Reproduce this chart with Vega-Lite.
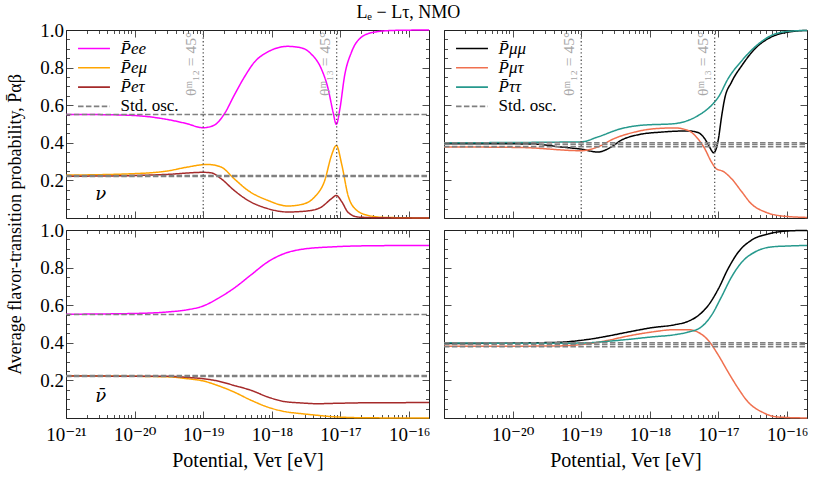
{
  "$schema": "https://vega.github.io/schema/vega-lite/v6.json",
  "padding": {"left": 6, "top": 4, "right": 5, "bottom": 5},
  "title": {"text": "Lₑ − Lτ, NMO", "anchor": "middle", "font": "Liberation Serif, DejaVu Serif", "fontSize": 18, "fontWeight": "normal", "color": "#000", "offset": -1},
  "datasets": {
    "curves": [
      {"panel":"TL","series":"P̄ee","x":1e-21,"y":0.551},{"panel":"TL","series":"P̄ee","x":3e-21,"y":0.550},{"panel":"TL","series":"P̄ee","x":1e-20,"y":0.545},{"panel":"TL","series":"P̄ee","x":3e-20,"y":0.524},{"panel":"TL","series":"P̄ee","x":5.6e-20,"y":0.503},{"panel":"TL","series":"P̄ee","x":1e-19,"y":0.48},{"panel":"TL","series":"P̄ee","x":1.45e-19,"y":0.494},{"panel":"TL","series":"P̄ee","x":2.04e-19,"y":0.555},{"panel":"TL","series":"P̄ee","x":2.82e-19,"y":0.652},{"panel":"TL","series":"P̄ee","x":3.98e-19,"y":0.75},{"panel":"TL","series":"P̄ee","x":5.6e-19,"y":0.83},{"panel":"TL","series":"P̄ee","x":8.7e-19,"y":0.883},{"panel":"TL","series":"P̄ee","x":1.7e-18,"y":0.913},{"panel":"TL","series":"P̄ee","x":2.7e-18,"y":0.905},{"panel":"TL","series":"P̄ee","x":3.7e-18,"y":0.874},{"panel":"TL","series":"P̄ee","x":5.25e-18,"y":0.794},{"panel":"TL","series":"P̄ee","x":6.6e-18,"y":0.688},{"panel":"TL","series":"P̄ee","x":7.8e-18,"y":0.563},{"panel":"TL","series":"P̄ee","x":8.7e-18,"y":0.498},{"panel":"TL","series":"P̄ee","x":9.8e-18,"y":0.58},{"panel":"TL","series":"P̄ee","x":1.15e-17,"y":0.758},{"panel":"TL","series":"P̄ee","x":1.45e-17,"y":0.883},{"panel":"TL","series":"P̄ee","x":2.04e-17,"y":0.963},{"panel":"TL","series":"P̄ee","x":3.16e-17,"y":0.989},{"panel":"TL","series":"P̄ee","x":6.2e-17,"y":0.998},{"panel":"TL","series":"P̄ee","x":1.95e-16,"y":1.0},
      {"panel":"TL","series":"P̄eμ","x":1e-21,"y":0.228},{"panel":"TL","series":"P̄eμ","x":1e-20,"y":0.236},{"panel":"TL","series":"P̄eμ","x":3e-20,"y":0.25},{"panel":"TL","series":"P̄eμ","x":5.9e-20,"y":0.271},{"panel":"TL","series":"P̄eμ","x":1.15e-19,"y":0.285},{"panel":"TL","series":"P̄eμ","x":1.82e-19,"y":0.271},{"panel":"TL","series":"P̄eμ","x":2.82e-19,"y":0.209},{"panel":"TL","series":"P̄eμ","x":4.47e-19,"y":0.147},{"panel":"TL","series":"P̄eμ","x":8.7e-19,"y":0.094},{"panel":"TL","series":"P̄eμ","x":1.7e-18,"y":0.064},{"panel":"TL","series":"P̄eμ","x":2.7e-18,"y":0.072},{"panel":"TL","series":"P̄eμ","x":4.2e-18,"y":0.112},{"panel":"TL","series":"P̄eμ","x":5.9e-18,"y":0.2},{"panel":"TL","series":"P̄eμ","x":7.4e-18,"y":0.333},{"panel":"TL","series":"P̄eμ","x":8.7e-18,"y":0.386},{"panel":"TL","series":"P̄eμ","x":1.05e-17,"y":0.28},{"panel":"TL","series":"P̄eμ","x":1.29e-17,"y":0.12},{"panel":"TL","series":"P̄eμ","x":1.62e-17,"y":0.05},{"panel":"TL","series":"P̄eμ","x":2.5e-17,"y":0.014},{"panel":"TL","series":"P̄eμ","x":4.5e-17,"y":0.003},{"panel":"TL","series":"P̄eμ","x":1.95e-16,"y":0.0},
      {"panel":"TL","series":"P̄eτ","x":1e-21,"y":0.222},{"panel":"TL","series":"P̄eτ","x":1e-20,"y":0.226},{"panel":"TL","series":"P̄eτ","x":3e-20,"y":0.232},{"panel":"TL","series":"P̄eτ","x":1e-19,"y":0.243},{"panel":"TL","series":"P̄eτ","x":1.32e-19,"y":0.24},{"panel":"TL","series":"P̄eτ","x":1.82e-19,"y":0.209},{"panel":"TL","series":"P̄eτ","x":2.82e-19,"y":0.147},{"panel":"TL","series":"P̄eτ","x":4.47e-19,"y":0.094},{"panel":"TL","series":"P̄eτ","x":8.7e-19,"y":0.05},{"panel":"TL","series":"P̄eτ","x":1.7e-18,"y":0.032},{"panel":"TL","series":"P̄eτ","x":3.4e-18,"y":0.038},{"panel":"TL","series":"P̄eτ","x":5.25e-18,"y":0.058},{"panel":"TL","series":"P̄eτ","x":7.4e-18,"y":0.103},{"panel":"TL","series":"P̄eτ","x":8.7e-18,"y":0.12},{"panel":"TL","series":"P̄eτ","x":1.05e-17,"y":0.085},{"panel":"TL","series":"P̄eτ","x":1.29e-17,"y":0.03},{"panel":"TL","series":"P̄eτ","x":1.82e-17,"y":0.005},{"panel":"TL","series":"P̄eτ","x":4e-17,"y":0.001},{"panel":"TL","series":"P̄eτ","x":1.95e-16,"y":0.0},
      {"panel":"TR","series":"P̄μμ","x":1e-21,"y":0.395},{"panel":"TR","series":"P̄μμ","x":1.86e-20,"y":0.394},{"panel":"TR","series":"P̄μμ","x":5e-20,"y":0.378},{"panel":"TR","series":"P̄μμ","x":1e-19,"y":0.366},{"panel":"TR","series":"P̄μμ","x":1.74e-19,"y":0.351},{"panel":"TR","series":"P̄μμ","x":2.75e-19,"y":0.378},{"panel":"TR","series":"P̄μμ","x":3.8e-19,"y":0.413},{"panel":"TR","series":"P̄μμ","x":6.8e-19,"y":0.443},{"panel":"TR","series":"P̄μμ","x":1.48e-18,"y":0.457},{"panel":"TR","series":"P̄μμ","x":3.6e-18,"y":0.463},{"panel":"TR","series":"P̄μμ","x":5e-18,"y":0.455},{"panel":"TR","series":"P̄μμ","x":6.3e-18,"y":0.422},{"panel":"TR","series":"P̄μμ","x":7.4e-18,"y":0.378},{"panel":"TR","series":"P̄μμ","x":8.5e-18,"y":0.347},{"panel":"TR","series":"P̄μμ","x":1e-17,"y":0.422},{"panel":"TR","series":"P̄μμ","x":1.1e-17,"y":0.53},{"panel":"TR","series":"P̄μμ","x":1.23e-17,"y":0.634},{"panel":"TR","series":"P̄μμ","x":1.55e-17,"y":0.723},{"panel":"TR","series":"P̄μμ","x":2.2e-17,"y":0.812},{"panel":"TR","series":"P̄μμ","x":3.4e-17,"y":0.9},{"panel":"TR","series":"P̄μμ","x":5.9e-17,"y":0.963},{"panel":"TR","series":"P̄μμ","x":1.05e-16,"y":0.989},{"panel":"TR","series":"P̄μμ","x":1.95e-16,"y":0.998},
      {"panel":"TR","series":"P̄μτ","x":1e-21,"y":0.378},{"panel":"TR","series":"P̄μτ","x":1.32e-20,"y":0.375},{"panel":"TR","series":"P̄μτ","x":1e-19,"y":0.358},{"panel":"TR","series":"P̄μτ","x":1.74e-19,"y":0.378},{"panel":"TR","series":"P̄μτ","x":3e-19,"y":0.422},{"panel":"TR","series":"P̄μτ","x":6e-19,"y":0.457},{"panel":"TR","series":"P̄μτ","x":1.17e-18,"y":0.475},{"panel":"TR","series":"P̄μτ","x":2.3e-18,"y":0.479},{"panel":"TR","series":"P̄μτ","x":3.6e-18,"y":0.466},{"panel":"TR","series":"P̄μτ","x":5e-18,"y":0.422},{"panel":"TR","series":"P̄μτ","x":6.3e-18,"y":0.369},{"panel":"TR","series":"P̄μτ","x":7.9e-18,"y":0.298},{"panel":"TR","series":"P̄μτ","x":9.3e-18,"y":0.262},{"panel":"TR","series":"P̄μτ","x":1.17e-17,"y":0.248},{"panel":"TR","series":"P̄μτ","x":1.55e-17,"y":0.209},{"panel":"TR","series":"P̄μτ","x":2.2e-17,"y":0.138},{"panel":"TR","series":"P̄μτ","x":3e-17,"y":0.076},{"panel":"TR","series":"P̄μτ","x":4.8e-17,"y":0.032},{"panel":"TR","series":"P̄μτ","x":8.3e-17,"y":0.011},{"panel":"TR","series":"P̄μτ","x":1.95e-16,"y":0.003},
      {"panel":"TR","series":"P̄ττ","x":1e-21,"y":0.4},{"panel":"TR","series":"P̄ττ","x":1e-19,"y":0.405},{"panel":"TR","series":"P̄ττ","x":1.74e-19,"y":0.431},{"panel":"TR","series":"P̄ττ","x":3.8e-19,"y":0.475},{"panel":"TR","series":"P̄ττ","x":7.4e-19,"y":0.493},{"panel":"TR","series":"P̄ττ","x":2.3e-18,"y":0.502},{"panel":"TR","series":"P̄ττ","x":3.6e-18,"y":0.519},{"panel":"TR","series":"P̄ττ","x":5.6e-18,"y":0.555},{"panel":"TR","series":"P̄ττ","x":7.9e-18,"y":0.599},{"panel":"TR","series":"P̄ττ","x":1e-17,"y":0.644},{"panel":"TR","series":"P̄ττ","x":1.38e-17,"y":0.741},{"panel":"TR","series":"P̄ττ","x":2.2e-17,"y":0.838},{"panel":"TR","series":"P̄ττ","x":3.4e-17,"y":0.91},{"panel":"TR","series":"P̄ττ","x":5.9e-17,"y":0.971},{"panel":"TR","series":"P̄ττ","x":1.05e-16,"y":0.993},{"panel":"TR","series":"P̄ττ","x":1.95e-16,"y":0.998},
      {"panel":"BL","series":"P̄ee","x":1e-21,"y":0.552},{"panel":"BL","series":"P̄ee","x":1e-20,"y":0.556},{"panel":"BL","series":"P̄ee","x":3e-20,"y":0.564},{"panel":"BL","series":"P̄ee","x":5.9e-20,"y":0.576},{"panel":"BL","series":"P̄ee","x":1e-19,"y":0.596},{"panel":"BL","series":"P̄ee","x":1.62e-19,"y":0.635},{"panel":"BL","series":"P̄ee","x":2.82e-19,"y":0.691},{"panel":"BL","series":"P̄ee","x":5e-19,"y":0.762},{"panel":"BL","series":"P̄ee","x":8.7e-19,"y":0.83},{"panel":"BL","series":"P̄ee","x":1.5e-18,"y":0.874},{"panel":"BL","series":"P̄ee","x":2.7e-18,"y":0.897},{"panel":"BL","series":"P̄ee","x":8.3e-18,"y":0.911},{"panel":"BL","series":"P̄ee","x":2.5e-17,"y":0.916},{"panel":"BL","series":"P̄ee","x":1.95e-16,"y":0.918},
      {"panel":"BL","series":"P̄eμ","x":1e-21,"y":0.225},{"panel":"BL","series":"P̄eμ","x":3e-20,"y":0.219},{"panel":"BL","series":"P̄eμ","x":5.9e-20,"y":0.209},{"panel":"BL","series":"P̄eμ","x":1e-19,"y":0.197},{"panel":"BL","series":"P̄eμ","x":1.62e-19,"y":0.173},{"panel":"BL","series":"P̄eμ","x":2.82e-19,"y":0.138},{"panel":"BL","series":"P̄eμ","x":5e-19,"y":0.094},{"panel":"BL","series":"P̄eμ","x":8.7e-19,"y":0.058},{"panel":"BL","series":"P̄eμ","x":1.5e-18,"y":0.035},{"panel":"BL","series":"P̄eμ","x":2.7e-18,"y":0.023},{"panel":"BL","series":"P̄eμ","x":4.7e-18,"y":0.014},{"panel":"BL","series":"P̄eμ","x":8.3e-18,"y":0.006},{"panel":"BL","series":"P̄eμ","x":2.5e-17,"y":0.001},{"panel":"BL","series":"P̄eμ","x":1.95e-16,"y":0.0},
      {"panel":"BL","series":"P̄eτ","x":1e-21,"y":0.223},{"panel":"BL","series":"P̄eτ","x":3e-20,"y":0.222},{"panel":"BL","series":"P̄eτ","x":5.9e-20,"y":0.216},{"panel":"BL","series":"P̄eτ","x":1e-19,"y":0.209},{"panel":"BL","series":"P̄eτ","x":1.62e-19,"y":0.197},{"panel":"BL","series":"P̄eτ","x":2.82e-19,"y":0.173},{"panel":"BL","series":"P̄eτ","x":5e-19,"y":0.147},{"panel":"BL","series":"P̄eτ","x":8.7e-19,"y":0.112},{"panel":"BL","series":"P̄eτ","x":1.5e-18,"y":0.088},{"panel":"BL","series":"P̄eτ","x":2.7e-18,"y":0.08},{"panel":"BL","series":"P̄eτ","x":4.7e-18,"y":0.076},{"panel":"BL","series":"P̄eτ","x":8.3e-18,"y":0.078},{"panel":"BL","series":"P̄eτ","x":2.5e-17,"y":0.081},{"panel":"BL","series":"P̄eτ","x":1.95e-16,"y":0.082},
      {"panel":"BR","series":"P̄μμ","x":1e-21,"y":0.396},{"panel":"BR","series":"P̄μμ","x":4.1e-20,"y":0.402},{"panel":"BR","series":"P̄μμ","x":1.26e-19,"y":0.418},{"panel":"BR","series":"P̄μμ","x":2.45e-19,"y":0.436},{"panel":"BR","series":"P̄μμ","x":4.8e-19,"y":0.457},{"panel":"BR","series":"P̄μμ","x":1.05e-18,"y":0.48},{"panel":"BR","series":"P̄μμ","x":2.3e-18,"y":0.496},{"panel":"BR","series":"P̄μμ","x":3.6e-18,"y":0.514},{"panel":"BR","series":"P̄μμ","x":5e-18,"y":0.543},{"panel":"BR","series":"P̄μμ","x":7.1e-18,"y":0.599},{"panel":"BR","series":"P̄μμ","x":1e-17,"y":0.688},{"panel":"BR","series":"P̄μμ","x":1.38e-17,"y":0.794},{"panel":"BR","series":"P̄μμ","x":1.95e-17,"y":0.883},{"panel":"BR","series":"P̄μμ","x":3e-17,"y":0.945},{"panel":"BR","series":"P̄μμ","x":5.4e-17,"y":0.98},{"panel":"BR","series":"P̄μμ","x":1.05e-16,"y":0.995},{"panel":"BR","series":"P̄μμ","x":1.95e-16,"y":0.998},
      {"panel":"BR","series":"P̄μτ","x":1e-21,"y":0.381},{"panel":"BR","series":"P̄μτ","x":4.1e-20,"y":0.383},{"panel":"BR","series":"P̄μτ","x":1.26e-19,"y":0.395},{"panel":"BR","series":"P̄μτ","x":2.45e-19,"y":0.413},{"panel":"BR","series":"P̄μτ","x":4.8e-19,"y":0.436},{"panel":"BR","series":"P̄μτ","x":1.05e-18,"y":0.457},{"panel":"BR","series":"P̄μτ","x":2.3e-18,"y":0.47},{"panel":"BR","series":"P̄μτ","x":3.6e-18,"y":0.47},{"panel":"BR","series":"P̄μτ","x":5e-18,"y":0.457},{"panel":"BR","series":"P̄μτ","x":7.1e-18,"y":0.413},{"panel":"BR","series":"P̄μτ","x":1e-17,"y":0.333},{"panel":"BR","series":"P̄μτ","x":1.38e-17,"y":0.245},{"panel":"BR","series":"P̄μτ","x":1.95e-17,"y":0.156},{"panel":"BR","series":"P̄μτ","x":2.7e-17,"y":0.085},{"panel":"BR","series":"P̄μτ","x":4.3e-17,"y":0.032},{"panel":"BR","series":"P̄μτ","x":7.4e-17,"y":0.005},{"panel":"BR","series":"P̄μτ","x":1.95e-16,"y":0.0},
      {"panel":"BR","series":"P̄ττ","x":1e-21,"y":0.4},{"panel":"BR","series":"P̄ττ","x":4.1e-20,"y":0.397},{"panel":"BR","series":"P̄ττ","x":1.26e-19,"y":0.4},{"panel":"BR","series":"P̄ττ","x":2.45e-19,"y":0.408},{"panel":"BR","series":"P̄ττ","x":4.8e-19,"y":0.418},{"panel":"BR","series":"P̄ττ","x":1.05e-18,"y":0.431},{"panel":"BR","series":"P̄ττ","x":2.3e-18,"y":0.443},{"panel":"BR","series":"P̄ττ","x":3.6e-18,"y":0.457},{"panel":"BR","series":"P̄ττ","x":5.6e-18,"y":0.484},{"panel":"BR","series":"P̄ττ","x":7.9e-18,"y":0.546},{"panel":"BR","series":"P̄ττ","x":1.1e-17,"y":0.643},{"panel":"BR","series":"P̄ττ","x":1.55e-17,"y":0.75},{"panel":"BR","series":"P̄ττ","x":2.2e-17,"y":0.83},{"panel":"BR","series":"P̄ττ","x":3.4e-17,"y":0.883},{"panel":"BR","series":"P̄ττ","x":5.9e-17,"y":0.91},{"panel":"BR","series":"P̄ττ","x":1.05e-16,"y":0.915},{"panel":"BR","series":"P̄ττ","x":1.95e-16,"y":0.918}
    ],
    "std": [
      {"panel":"TL","series":"Std. osc.","id":"a","x":1e-21,"y":0.551},{"panel":"TL","series":"Std. osc.","id":"a","x":1.95e-16,"y":0.551},
      {"panel":"TL","series":"Std. osc.","id":"b","x":1e-21,"y":0.226},{"panel":"TL","series":"Std. osc.","id":"b","x":1.95e-16,"y":0.226},
      {"panel":"TL","series":"Std. osc.","id":"c","x":1e-21,"y":0.221},{"panel":"TL","series":"Std. osc.","id":"c","x":1.95e-16,"y":0.221},
      {"panel":"BL","series":"Std. osc.","id":"a","x":1e-21,"y":0.551},{"panel":"BL","series":"Std. osc.","id":"a","x":1.95e-16,"y":0.551},
      {"panel":"BL","series":"Std. osc.","id":"b","x":1e-21,"y":0.226},{"panel":"BL","series":"Std. osc.","id":"b","x":1.95e-16,"y":0.226},
      {"panel":"BL","series":"Std. osc.","id":"c","x":1e-21,"y":0.221},{"panel":"BL","series":"Std. osc.","id":"c","x":1.95e-16,"y":0.221},
      {"panel":"TR","series":"Std. osc.","id":"a","x":1e-21,"y":0.4},{"panel":"TR","series":"Std. osc.","id":"a","x":1.95e-16,"y":0.4},
      {"panel":"TR","series":"Std. osc.","id":"b","x":1e-21,"y":0.391},{"panel":"TR","series":"Std. osc.","id":"b","x":1.95e-16,"y":0.391},
      {"panel":"TR","series":"Std. osc.","id":"c","x":1e-21,"y":0.379},{"panel":"TR","series":"Std. osc.","id":"c","x":1.95e-16,"y":0.379},
      {"panel":"BR","series":"Std. osc.","id":"a","x":1e-21,"y":0.4},{"panel":"BR","series":"Std. osc.","id":"a","x":1.95e-16,"y":0.4},
      {"panel":"BR","series":"Std. osc.","id":"b","x":1e-21,"y":0.391},{"panel":"BR","series":"Std. osc.","id":"b","x":1.95e-16,"y":0.391},
      {"panel":"BR","series":"Std. osc.","id":"c","x":1e-21,"y":0.379},{"panel":"BR","series":"Std. osc.","id":"c","x":1.95e-16,"y":0.379}
    ],
    "vlines": [
      {"x":1e-19,"label":"θᵐ₁₂ = 45°"},
      {"x":8.8e-18,"label":"θᵐ₁₃ = 45°"}
    ],
    "notes": [
      {"panel":"TL","text":"ν"},
      {"panel":"BL","text":"ν̄"}
    ]
  },
  "concat": [
    {
      "width": 363, "height": 188,
      "layer": [
        {
          "data": {"name": "curves"},
          "transform": [{"filter": "datum.panel == 'TL'"}],
          "mark": {"type": "line", "strokeWidth": 1.5, "interpolate": "monotone"},
          "encoding": {
            "x": {"field": "x", "type": "quantitative", "scale": {"type": "log", "domain": [1e-21, 1.95e-16], "nice": false},
                  "axis": {"orient": "top", "labels": false, "title": null, "values": [1e-21,2e-21,3e-21,4e-21,5e-21,6e-21,7e-21,8e-21,9e-21,1e-20,2e-20,3e-20,4e-20,5e-20,6e-20,7e-20,8e-20,9e-20,1e-19,2e-19,3e-19,4e-19,5e-19,6e-19,7e-19,8e-19,9e-19,1e-18,2e-18,3e-18,4e-18,5e-18,6e-18,7e-18,8e-18,9e-18,1e-17,2e-17,3e-17,4e-17,5e-17,6e-17,7e-17,8e-17,9e-17,1e-16],
                           "tickSize": {"condition": {"test": "abs(log(datum.value)/LN10 - round(log(datum.value)/LN10)) < 0.001", "value": -7}, "value": -3.5}}},
            "y": {"field": "y", "type": "quantitative", "scale": {"domain": [0, 1], "nice": false},
                  "axis": {"orient": "right", "labels": false, "title": null, "values": [0,0.05,0.1,0.15,0.2,0.25,0.3,0.35,0.4,0.45,0.5,0.55,0.6,0.65,0.7,0.75,0.8,0.85,0.9,0.95,1],
                           "tickSize": {"condition": {"test": "abs(datum.value*5 - round(datum.value*5)) < 0.001", "value": -7}, "value": -3.5}}},
            "color": {"field": "series", "type": "nominal", "scale": {"domain": ["P̄ee","P̄eμ","P̄eτ","Std. osc."], "range": ["#ff00ff","#ffa500","#a52a2a","#808080"]},
                      "legend": {"title": null, "orient": "none", "legendX": 17.5, "legendY": 8, "symbolType": "M-1.68,0H1.68", "symbolSize": 361, "symbolStrokeWidth": 1.6, "labelOffset": 16, "rowPadding": 0.3, "labelFontSize": 17, "labelFont": "Liberation Serif", "labelColor": "#000", "padding": 0,
                                 "encode": {"labels": {"update": {"fontStyle": {"signal": "datum.label == 'Std. osc.' ? 'normal' : 'italic'"}}}}}},
            "strokeDash": {"field": "series", "type": "nominal", "scale": {"domain": ["P̄ee","P̄eμ","P̄eτ","Std. osc."], "range": [[1,0],[1,0],[1,0],[5.5,2.4]]},
                      "legend": {"title": null, "orient": "none", "legendX": 17.5, "legendY": 8, "symbolType": "M-1.68,0H1.68", "symbolSize": 361, "symbolStrokeWidth": 1.6, "labelOffset": 16, "rowPadding": 0.3, "labelFontSize": 17, "labelFont": "Liberation Serif", "labelColor": "#000", "padding": 0,
                                 "encode": {"labels": {"update": {"fontStyle": {"signal": "datum.label == 'Std. osc.' ? 'normal' : 'italic'"}}}}}}
          }
        },
        {
          "data": {"name": "std"},
          "transform": [{"filter": "datum.panel == 'TL'"}],
          "mark": {"type": "line", "strokeWidth": 1.5},
          "encoding": {
            "x": {"field": "x", "type": "quantitative", "scale": {"type": "log", "domain": [1e-21, 1.95e-16], "nice": false},
                  "axis": {"orient": "bottom", "labels": false, "title": null, "values": [1e-21,2e-21,3e-21,4e-21,5e-21,6e-21,7e-21,8e-21,9e-21,1e-20,2e-20,3e-20,4e-20,5e-20,6e-20,7e-20,8e-20,9e-20,1e-19,2e-19,3e-19,4e-19,5e-19,6e-19,7e-19,8e-19,9e-19,1e-18,2e-18,3e-18,4e-18,5e-18,6e-18,7e-18,8e-18,9e-18,1e-17,2e-17,3e-17,4e-17,5e-17,6e-17,7e-17,8e-17,9e-17,1e-16],
                           "tickSize": {"condition": {"test": "abs(log(datum.value)/LN10 - round(log(datum.value)/LN10)) < 0.001", "value": -7}, "value": -3.5}}},
            "y": {"field": "y", "type": "quantitative", "scale": {"domain": [0, 1], "nice": false},
                  "axis": {"orient": "left", "title": "Average flavor-transition probability, P̄αβ", "titleFontSize": 18, "titleY": 194, "titlePadding": 15, "labelPadding": 9.5,
                           "values": [0,0.05,0.1,0.15,0.2,0.25,0.3,0.35,0.4,0.45,0.5,0.55,0.6,0.65,0.7,0.75,0.8,0.85,0.9,0.95,1],
                           "labelExpr": "abs(datum.value*5 - round(datum.value*5)) < 0.001 && datum.value > 0.1 ? format(datum.value, '.1f') : ''",
                           "tickSize": {"condition": {"test": "abs(datum.value*5 - round(datum.value*5)) < 0.001", "value": -7}, "value": -3.5}}},
            "color": {"field": "series", "type": "nominal"},
            "strokeDash": {"field": "series", "type": "nominal"},
            "detail": {"field": "id"}
          }
        },
        {
          "data": {"name": "vlines"},
          "mark": {"type": "rule", "color": "#555555", "strokeWidth": 1.3, "strokeDash": [1.3, 2.4]},
          "encoding": {"x": {"field": "x", "type": "quantitative", "axis": null}}
        },
        {
          "data": {"name": "vlines"},
          "mark": {"type": "text", "angle": 270, "align": "right", "baseline": "bottom", "dy": -4, "fontSize": 15.5, "color": "#a6a6a6", "font": "Liberation Serif, DejaVu Serif"},
          "encoding": {"x": {"field": "x", "type": "quantitative", "axis": null}, "y": {"datum": 0.99, "type": "quantitative", "axis": null}, "text": {"field": "label"}}
        },
        {
          "data": {"name": "notes"},
          "transform": [{"filter": "datum.panel == 'TL'"}],
          "mark": {"type": "text", "fontSize": 18, "fontStyle": "italic", "font": "DejaVu Serif", "color": "#000", "baseline": "middle"},
          "encoding": {"x": {"datum": 3.2e-21, "type": "quantitative", "axis": null}, "y": {"datum": 0.124, "type": "quantitative", "axis": null}, "text": {"field": "text"}}
        }
      ],
      "resolve": {"axis": {"x": "independent", "y": "independent"}}
    },
    {
      "width": 363, "height": 188,
      "layer": [
        {
          "data": {"name": "curves"},
          "transform": [{"filter": "datum.panel == 'TR'"}],
          "mark": {"type": "line", "strokeWidth": 1.5, "interpolate": "monotone"},
          "encoding": {
            "x": {"field": "x", "type": "quantitative", "scale": {"type": "log", "domain": [1e-21, 1.95e-16], "nice": false},
                  "axis": {"orient": "top", "labels": false, "title": null, "values": [1e-21,2e-21,3e-21,4e-21,5e-21,6e-21,7e-21,8e-21,9e-21,1e-20,2e-20,3e-20,4e-20,5e-20,6e-20,7e-20,8e-20,9e-20,1e-19,2e-19,3e-19,4e-19,5e-19,6e-19,7e-19,8e-19,9e-19,1e-18,2e-18,3e-18,4e-18,5e-18,6e-18,7e-18,8e-18,9e-18,1e-17,2e-17,3e-17,4e-17,5e-17,6e-17,7e-17,8e-17,9e-17,1e-16],
                           "tickSize": {"condition": {"test": "abs(log(datum.value)/LN10 - round(log(datum.value)/LN10)) < 0.001", "value": -7}, "value": -3.5}}},
            "y": {"field": "y", "type": "quantitative", "scale": {"domain": [0, 1], "nice": false},
                  "axis": {"orient": "right", "labels": false, "title": null, "values": [0,0.05,0.1,0.15,0.2,0.25,0.3,0.35,0.4,0.45,0.5,0.55,0.6,0.65,0.7,0.75,0.8,0.85,0.9,0.95,1],
                           "tickSize": {"condition": {"test": "abs(datum.value*5 - round(datum.value*5)) < 0.001", "value": -7}, "value": -3.5}}},
            "color": {"field": "series", "type": "nominal", "scale": {"domain": ["P̄μμ","P̄μτ","P̄ττ","Std. osc."], "range": ["#000000","#f0704f","#26998d","#808080"]},
                      "legend": {"title": null, "orient": "none", "legendX": 17.5, "legendY": 8, "symbolType": "M-1.68,0H1.68", "symbolSize": 361, "symbolStrokeWidth": 1.6, "labelOffset": 16, "rowPadding": 0.3, "labelFontSize": 17, "labelFont": "Liberation Serif", "labelColor": "#000", "padding": 0,
                                 "encode": {"labels": {"update": {"fontStyle": {"signal": "datum.label == 'Std. osc.' ? 'normal' : 'italic'"}}}}}},
            "strokeDash": {"field": "series", "type": "nominal", "scale": {"domain": ["P̄μμ","P̄μτ","P̄ττ","Std. osc."], "range": [[1,0],[1,0],[1,0],[5.5,2.4]]},
                      "legend": {"title": null, "orient": "none", "legendX": 17.5, "legendY": 8, "symbolType": "M-1.68,0H1.68", "symbolSize": 361, "symbolStrokeWidth": 1.6, "labelOffset": 16, "rowPadding": 0.3, "labelFontSize": 17, "labelFont": "Liberation Serif", "labelColor": "#000", "padding": 0,
                                 "encode": {"labels": {"update": {"fontStyle": {"signal": "datum.label == 'Std. osc.' ? 'normal' : 'italic'"}}}}}}
          }
        },
        {
          "data": {"name": "std"},
          "transform": [{"filter": "datum.panel == 'TR'"}],
          "mark": {"type": "line", "strokeWidth": 1.5},
          "encoding": {
            "x": {"field": "x", "type": "quantitative", "scale": {"type": "log", "domain": [1e-21, 1.95e-16], "nice": false},
                  "axis": {"orient": "bottom", "labels": false, "title": null, "values": [1e-21,2e-21,3e-21,4e-21,5e-21,6e-21,7e-21,8e-21,9e-21,1e-20,2e-20,3e-20,4e-20,5e-20,6e-20,7e-20,8e-20,9e-20,1e-19,2e-19,3e-19,4e-19,5e-19,6e-19,7e-19,8e-19,9e-19,1e-18,2e-18,3e-18,4e-18,5e-18,6e-18,7e-18,8e-18,9e-18,1e-17,2e-17,3e-17,4e-17,5e-17,6e-17,7e-17,8e-17,9e-17,1e-16],
                           "tickSize": {"condition": {"test": "abs(log(datum.value)/LN10 - round(log(datum.value)/LN10)) < 0.001", "value": -7}, "value": -3.5}}},
            "y": {"field": "y", "type": "quantitative", "scale": {"domain": [0, 1], "nice": false},
                  "axis": {"orient": "left", "labels": false, "title": null, "values": [0,0.05,0.1,0.15,0.2,0.25,0.3,0.35,0.4,0.45,0.5,0.55,0.6,0.65,0.7,0.75,0.8,0.85,0.9,0.95,1],
                           "tickSize": {"condition": {"test": "abs(datum.value*5 - round(datum.value*5)) < 0.001", "value": -7}, "value": -3.5}}},
            "color": {"field": "series", "type": "nominal"},
            "strokeDash": {"field": "series", "type": "nominal"},
            "detail": {"field": "id"}
          }
        },
        {
          "data": {"name": "vlines"},
          "mark": {"type": "rule", "color": "#555555", "strokeWidth": 1.3, "strokeDash": [1.3, 2.4]},
          "encoding": {"x": {"field": "x", "type": "quantitative", "axis": null}}
        },
        {
          "data": {"name": "vlines"},
          "mark": {"type": "text", "angle": 270, "align": "right", "baseline": "bottom", "dy": -4, "fontSize": 15.5, "color": "#a6a6a6", "font": "Liberation Serif, DejaVu Serif"},
          "encoding": {"x": {"field": "x", "type": "quantitative", "axis": null}, "y": {"datum": 0.99, "type": "quantitative", "axis": null}, "text": {"field": "label"}}
        }
      ],
      "resolve": {"axis": {"x": "independent", "y": "independent"}}
    },
    {
      "width": 363, "height": 188,
      "layer": [
        {
          "data": {"name": "curves"},
          "transform": [{"filter": "datum.panel == 'BL'"}],
          "mark": {"type": "line", "strokeWidth": 1.5, "interpolate": "monotone"},
          "encoding": {
            "x": {"field": "x", "type": "quantitative", "scale": {"type": "log", "domain": [1e-21, 1.95e-16], "nice": false},
                  "axis": {"orient": "top", "labels": false, "title": null, "values": [1e-21,2e-21,3e-21,4e-21,5e-21,6e-21,7e-21,8e-21,9e-21,1e-20,2e-20,3e-20,4e-20,5e-20,6e-20,7e-20,8e-20,9e-20,1e-19,2e-19,3e-19,4e-19,5e-19,6e-19,7e-19,8e-19,9e-19,1e-18,2e-18,3e-18,4e-18,5e-18,6e-18,7e-18,8e-18,9e-18,1e-17,2e-17,3e-17,4e-17,5e-17,6e-17,7e-17,8e-17,9e-17,1e-16],
                           "tickSize": {"condition": {"test": "abs(log(datum.value)/LN10 - round(log(datum.value)/LN10)) < 0.001", "value": -7}, "value": -3.5}}},
            "y": {"field": "y", "type": "quantitative", "scale": {"domain": [0, 1], "nice": false},
                  "axis": {"orient": "right", "labels": false, "title": null, "values": [0,0.05,0.1,0.15,0.2,0.25,0.3,0.35,0.4,0.45,0.5,0.55,0.6,0.65,0.7,0.75,0.8,0.85,0.9,0.95,1],
                           "tickSize": {"condition": {"test": "abs(datum.value*5 - round(datum.value*5)) < 0.001", "value": -7}, "value": -3.5}}},
            "color": {"field": "series", "type": "nominal", "scale": {"domain": ["P̄ee","P̄eμ","P̄eτ","Std. osc."], "range": ["#ff00ff","#ffa500","#a52a2a","#808080"]}, "legend": null},
            "strokeDash": {"field": "series", "type": "nominal", "scale": {"domain": ["P̄ee","P̄eμ","P̄eτ","Std. osc."], "range": [[1,0],[1,0],[1,0],[5.5,2.4]]}, "legend": null}
          }
        },
        {
          "data": {"name": "std"},
          "transform": [{"filter": "datum.panel == 'BL'"}],
          "mark": {"type": "line", "strokeWidth": 1.5},
          "encoding": {
            "x": {"field": "x", "type": "quantitative", "scale": {"type": "log", "domain": [1e-21, 1.95e-16], "nice": false},
                  "axis": {"orient": "bottom", "title": "Potential, Veτ [eV]", "titleFontSize": 20, "titlePadding": 3, "labelPadding": 14,
                           "values": [1e-21,2e-21,3e-21,4e-21,5e-21,6e-21,7e-21,8e-21,9e-21,1e-20,2e-20,3e-20,4e-20,5e-20,6e-20,7e-20,8e-20,9e-20,1e-19,2e-19,3e-19,4e-19,5e-19,6e-19,7e-19,8e-19,9e-19,1e-18,2e-18,3e-18,4e-18,5e-18,6e-18,7e-18,8e-18,9e-18,1e-17,2e-17,3e-17,4e-17,5e-17,6e-17,7e-17,8e-17,9e-17,1e-16],
                           "labelExpr": "abs(log(datum.value)/LN10 - round(log(datum.value)/LN10)) < 0.001 ? ['10⁻²¹','10⁻²⁰','10⁻¹⁹','10⁻¹⁸','10⁻¹⁷','10⁻¹⁶'][round(log(datum.value)/LN10) + 21] : ''",
                           "tickSize": {"condition": {"test": "abs(log(datum.value)/LN10 - round(log(datum.value)/LN10)) < 0.001", "value": -7}, "value": -3.5}}},
            "y": {"field": "y", "type": "quantitative", "scale": {"domain": [0, 1], "nice": false},
                  "axis": {"orient": "left", "title": null, "labelPadding": 9.5,
                           "values": [0,0.05,0.1,0.15,0.2,0.25,0.3,0.35,0.4,0.45,0.5,0.55,0.6,0.65,0.7,0.75,0.8,0.85,0.9,0.95,1],
                           "labelExpr": "abs(datum.value*5 - round(datum.value*5)) < 0.001 && datum.value > 0.1 ? format(datum.value, '.1f') : ''",
                           "tickSize": {"condition": {"test": "abs(datum.value*5 - round(datum.value*5)) < 0.001", "value": -7}, "value": -3.5}}},
            "color": {"field": "series", "type": "nominal"},
            "strokeDash": {"field": "series", "type": "nominal"},
            "detail": {"field": "id"}
          }
        },
        {
          "data": {"name": "notes"},
          "transform": [{"filter": "datum.panel == 'BL'"}],
          "mark": {"type": "text", "fontSize": 18, "fontStyle": "italic", "font": "DejaVu Serif", "color": "#000", "baseline": "middle"},
          "encoding": {"x": {"datum": 3.2e-21, "type": "quantitative", "axis": null}, "y": {"datum": 0.113, "type": "quantitative", "axis": null}, "text": {"field": "text"}}
        }
      ],
      "resolve": {"axis": {"x": "independent", "y": "independent"}}
    },
    {
      "width": 363, "height": 188,
      "layer": [
        {
          "data": {"name": "curves"},
          "transform": [{"filter": "datum.panel == 'BR'"}],
          "mark": {"type": "line", "strokeWidth": 1.5, "interpolate": "monotone"},
          "encoding": {
            "x": {"field": "x", "type": "quantitative", "scale": {"type": "log", "domain": [1e-21, 1.95e-16], "nice": false},
                  "axis": {"orient": "top", "labels": false, "title": null, "values": [1e-21,2e-21,3e-21,4e-21,5e-21,6e-21,7e-21,8e-21,9e-21,1e-20,2e-20,3e-20,4e-20,5e-20,6e-20,7e-20,8e-20,9e-20,1e-19,2e-19,3e-19,4e-19,5e-19,6e-19,7e-19,8e-19,9e-19,1e-18,2e-18,3e-18,4e-18,5e-18,6e-18,7e-18,8e-18,9e-18,1e-17,2e-17,3e-17,4e-17,5e-17,6e-17,7e-17,8e-17,9e-17,1e-16],
                           "tickSize": {"condition": {"test": "abs(log(datum.value)/LN10 - round(log(datum.value)/LN10)) < 0.001", "value": -7}, "value": -3.5}}},
            "y": {"field": "y", "type": "quantitative", "scale": {"domain": [0, 1], "nice": false},
                  "axis": {"orient": "right", "labels": false, "title": null, "values": [0,0.05,0.1,0.15,0.2,0.25,0.3,0.35,0.4,0.45,0.5,0.55,0.6,0.65,0.7,0.75,0.8,0.85,0.9,0.95,1],
                           "tickSize": {"condition": {"test": "abs(datum.value*5 - round(datum.value*5)) < 0.001", "value": -7}, "value": -3.5}}},
            "color": {"field": "series", "type": "nominal", "scale": {"domain": ["P̄μμ","P̄μτ","P̄ττ","Std. osc."], "range": ["#000000","#f0704f","#26998d","#808080"]}, "legend": null},
            "strokeDash": {"field": "series", "type": "nominal", "scale": {"domain": ["P̄μμ","P̄μτ","P̄ττ","Std. osc."], "range": [[1,0],[1,0],[1,0],[5.5,2.4]]}, "legend": null}
          }
        },
        {
          "data": {"name": "std"},
          "transform": [{"filter": "datum.panel == 'BR'"}],
          "mark": {"type": "line", "strokeWidth": 1.5},
          "encoding": {
            "x": {"field": "x", "type": "quantitative", "scale": {"type": "log", "domain": [1e-21, 1.95e-16], "nice": false},
                  "axis": {"orient": "bottom", "title": "Potential, Veτ [eV]", "titleFontSize": 20, "titlePadding": 3, "labelPadding": 14,
                           "values": [1e-21,2e-21,3e-21,4e-21,5e-21,6e-21,7e-21,8e-21,9e-21,1e-20,2e-20,3e-20,4e-20,5e-20,6e-20,7e-20,8e-20,9e-20,1e-19,2e-19,3e-19,4e-19,5e-19,6e-19,7e-19,8e-19,9e-19,1e-18,2e-18,3e-18,4e-18,5e-18,6e-18,7e-18,8e-18,9e-18,1e-17,2e-17,3e-17,4e-17,5e-17,6e-17,7e-17,8e-17,9e-17,1e-16],
                           "labelExpr": "abs(log(datum.value)/LN10 - round(log(datum.value)/LN10)) < 0.001 ? ['','10⁻²⁰','10⁻¹⁹','10⁻¹⁸','10⁻¹⁷','10⁻¹⁶'][round(log(datum.value)/LN10) + 21] : ''",
                           "tickSize": {"condition": {"test": "abs(log(datum.value)/LN10 - round(log(datum.value)/LN10)) < 0.001", "value": -7}, "value": -3.5}}},
            "y": {"field": "y", "type": "quantitative", "scale": {"domain": [0, 1], "nice": false},
                  "axis": {"orient": "left", "labels": false, "title": null, "values": [0,0.05,0.1,0.15,0.2,0.25,0.3,0.35,0.4,0.45,0.5,0.55,0.6,0.65,0.7,0.75,0.8,0.85,0.9,0.95,1],
                           "tickSize": {"condition": {"test": "abs(datum.value*5 - round(datum.value*5)) < 0.001", "value": -7}, "value": -3.5}}},
            "color": {"field": "series", "type": "nominal"},
            "strokeDash": {"field": "series", "type": "nominal"},
            "detail": {"field": "id"}
          }
        }
      ],
      "resolve": {"axis": {"x": "independent", "y": "independent"}}
    }
  ],
  "columns": 2,
  "spacing": {"row": 12, "column": 15},
  "bounds": "flush",
  "resolve": {"scale": {"color": "independent", "strokeDash": "independent"}, "legend": {"color": "independent", "strokeDash": "independent"}},
  "config": {
    "font": "Liberation Serif",
    "view": {"stroke": null},
    "axis": {"grid": false, "labelFont": "Liberation Serif, DejaVu Serif", "labelFontSize": 19, "labelColor": "#000", "titleFont": "Liberation Serif, DejaVu Serif", "titleFontSize": 18, "titleFontWeight": "normal", "titleColor": "#000", "domainColor": "#222", "domainWidth": 1, "tickColor": "#222", "tickWidth": 0.8, "labelFlush": false, "labelOverlap": false, "labelBound": false}
  }
}
